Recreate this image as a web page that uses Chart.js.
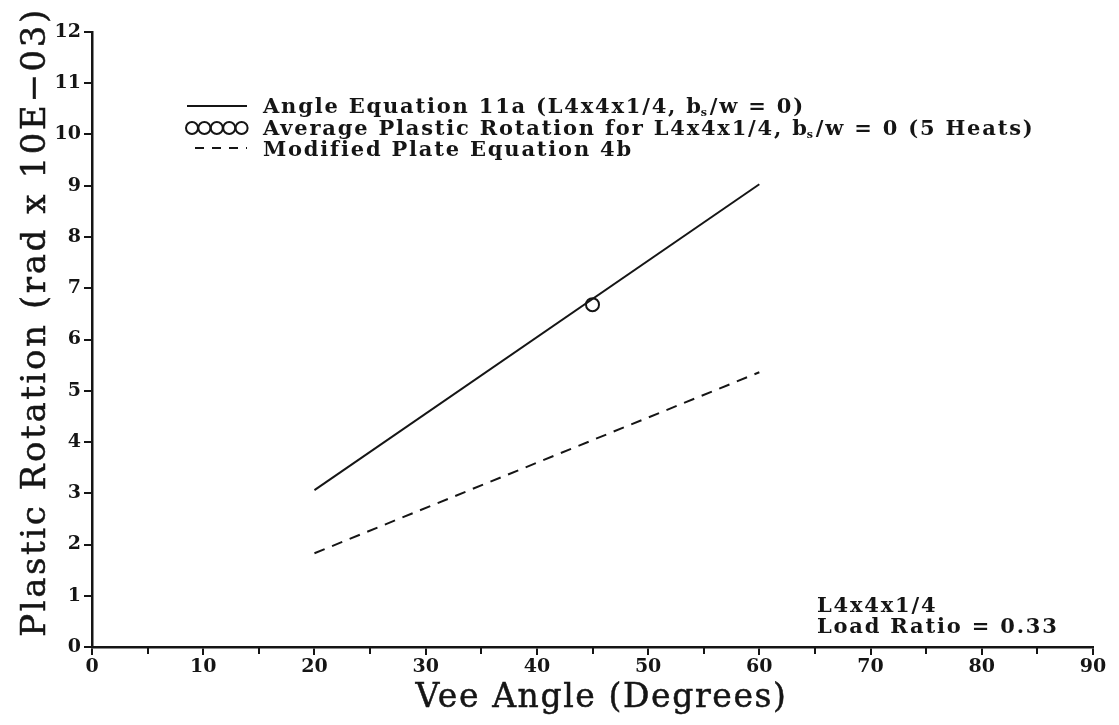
<!DOCTYPE html>
<html>
<head>
<meta charset="utf-8">
<script src="https://cdn.jsdelivr.net/npm/chart.js@4.4.1/dist/chart.umd.min.js"></script>
<style>
  html, body { margin: 0; padding: 0; background: #ffffff; }
  #wrap { width: 1119px; height: 725px; position: relative; }
</style>
</head>
<body>
<div id="wrap"><canvas id="c" width="1119" height="725"></canvas></div>
<script>
// Vee angle (degrees) at which the two equations are evaluated
const veeAngle = [20, 60];
// Angle Equation 11a, L4x4x1/4, bs/w = 0 (rad x 1E-03)
const angleEq11a = [3.06, 9.03];
// Average plastic rotation of the 5 heats
const testAngle = [45];
const avgPlasticRotation = [6.68];
// Modified Plate Equation 4b
const plateEq4b = [1.83, 5.36];

// Axis tick values
const xTicks = [0, 10, 20, 30, 40, 50, 60, 70, 80, 90];
const xMinorTicks = [5, 15, 25, 35, 45, 55, 65, 75, 85];
const yTicks = [0, 1, 2, 3, 4, 5, 6, 7, 8, 9, 10, 11, 12];

// Axis titles
const xTitle = 'Vee Angle (Degrees)';
const yTitle = 'Plastic Rotation (rad x 10E\u221203)';

// Legend entries ("_s" marks a subscript s)
const legendLabels = [
  'Angle Equation 11a (L4x4x1/4, b_s/w = 0)',
  'Average Plastic Rotation for L4x4x1/4, b_s/w = 0 (5 Heats)',
  'Modified Plate Equation 4b'
];
const noteLines = ['L4x4x1/4', 'Load Ratio = 0.33'];

const INK = '#151515';
const titleFont = 'DejaVu Serif';
const textFont = 'DejaVu Serif';
const tickFont = 'DejaVu Serif';

const pairs = (xs, ys) => xs.map((x, i) => ({ x: x, y: ys[i] }));

// Draws minor x ticks, axis titles, the legend block and the section note
const decorations = {
  id: 'decorations',
  afterDraw(chart) {
    const ctx = chart.ctx;
    const xs = chart.scales.x;
    const ys = chart.scales.y;
    const area = chart.chartArea;
    ctx.save();
    ctx.strokeStyle = INK;
    ctx.fillStyle = INK;
    ctx.lineWidth = 2;

    // minor ticks halfway between labelled ticks
    const axisY = ys.getPixelForValue(0);
    xMinorTicks.forEach(v => {
      const px = Math.round(xs.getPixelForValue(v));
      ctx.beginPath();
      ctx.moveTo(px, axisY);
      ctx.lineTo(px, axisY + 7);
      ctx.stroke();
    });

    // axis titles, slightly stroked for a heavier plotter line
    ctx.textAlign = 'center';
    ctx.textBaseline = 'alphabetic';
    ctx.lineWidth = 0.5;
    ctx.font = '33px "' + titleFont + '"';
    ctx.letterSpacing = '1.6px';
    const xtX = (area.left + area.right) / 2 + 9;
    ctx.fillText(xTitle, xtX, 707);
    ctx.strokeText(xTitle, xtX, 707);

    ctx.save();
    ctx.translate(45, 322);
    ctx.rotate(-Math.PI / 2);
    ctx.font = '34px "' + titleFont + '"';
    ctx.letterSpacing = '2.6px';
    ctx.fillText(yTitle, 0, 0);
    ctx.strokeText(yTitle, 0, 0);
    ctx.restore();

    // legend
    ctx.textAlign = 'left';
    ctx.letterSpacing = '1.8px';
    const drawRich = (text, x, y) => {
      const parts = text.split('_s');
      let cx = x;
      parts.forEach((p, i) => {
        ctx.font = 'bold 21px "' + textFont + '"';
        ctx.fillText(p, cx, y);
        cx += ctx.measureText(p).width;
        if (i < parts.length - 1) {
          ctx.font = 'bold 11px "' + textFont + '"';
          ctx.fillText('s', cx - 2, y + 3);
          cx += ctx.measureText('s').width - 1;
        }
      });
    };

    const ds = chart.data.datasets;
    const sx0 = 187, sx1 = 247, tx = 263;
    ctx.lineWidth = ds[0].borderWidth;
    // solid sample
    ctx.setLineDash([]);
    ctx.beginPath();
    ctx.moveTo(sx0, 106);
    ctx.lineTo(sx1, 106);
    ctx.stroke();
    // marker samples
    ctx.lineWidth = ds[1].pointBorderWidth;
    for (let k = 0; k < 5; k++) {
      ctx.beginPath();
      ctx.arc(sx0 - 1 + 6 + k * 12.4, 128, 6, 0, Math.PI * 2);
      ctx.stroke();
    }
    // dashed sample
    ctx.lineWidth = ds[2].borderWidth;
    ctx.setLineDash([9, 8]);
    ctx.beginPath();
    ctx.moveTo(sx0 + 8, 148);
    ctx.lineTo(sx1, 148);
    ctx.stroke();
    ctx.setLineDash([]);

    const baselines = [113, 134.5, 156];
    legendLabels.forEach((t, i) => drawRich(t, tx, baselines[i]));

    // section note in the lower right
    ctx.font = 'bold 21px "' + textFont + '"';
    ctx.fillText(noteLines[0], 817, 612);
    ctx.fillText(noteLines[1], 817, 633);
    ctx.restore();
  }
};

new Chart(document.getElementById('c'), {
  type: 'scatter',
  data: {
    datasets: [
      {
        label: legendLabels[0],
        data: pairs(veeAngle, angleEq11a),
        showLine: true,
        borderColor: INK,
        borderWidth: 2,
        pointRadius: 0,
        fill: false
      },
      {
        label: legendLabels[1],
        data: pairs(testAngle, avgPlasticRotation),
        showLine: false,
        borderColor: INK,
        backgroundColor: 'rgba(255,255,255,0)',
        pointBorderWidth: 2,
        pointRadius: 6.5,
        pointStyle: 'circle'
      },
      {
        label: legendLabels[2],
        data: pairs(veeAngle, plateEq4b),
        showLine: true,
        borderColor: INK,
        borderWidth: 2,
        borderDash: [11, 8],
        pointRadius: 0,
        fill: false
      }
    ]
  },
  options: {
    responsive: false,
    animation: false,
    devicePixelRatio: 1,
    layout: { padding: { top: 32, right: 26, bottom: 0, left: 0 } },
    plugins: {
      legend: { display: false },
      tooltip: { enabled: false }
    },
    scales: {
      x: {
        type: 'linear',
        min: 0,
        max: 90,
        afterBuildTicks(s) { s.ticks = xTicks.map(v => ({ value: v })); },
        afterFit(s) { s.height = 78; },
        ticks: {
          color: INK,
          padding: 1,
          maxRotation: 0,
          font: { family: tickFont, weight: 'bold', size: 19 }
        },
        grid: { drawOnChartArea: false, drawTicks: true, tickLength: 8, color: INK, lineWidth: 2 },
        border: { display: true, color: INK, width: 2.5 },
        title: { display: false }
      },
      y: {
        type: 'linear',
        min: 0,
        max: 12,
        afterBuildTicks(s) { s.ticks = yTicks.map(v => ({ value: v })); },
        afterFit(s) { s.width = 92; },
        ticks: {
          color: INK,
          padding: 3,
          font: { family: tickFont, weight: 'bold', size: 19 }
        },
        grid: { drawOnChartArea: false, drawTicks: true, tickLength: 8, color: INK, lineWidth: 2 },
        border: { display: true, color: INK, width: 2.5 },
        title: { display: false }
      }
    }
  },
  plugins: [decorations]
});
</script>
</body>
</html>
